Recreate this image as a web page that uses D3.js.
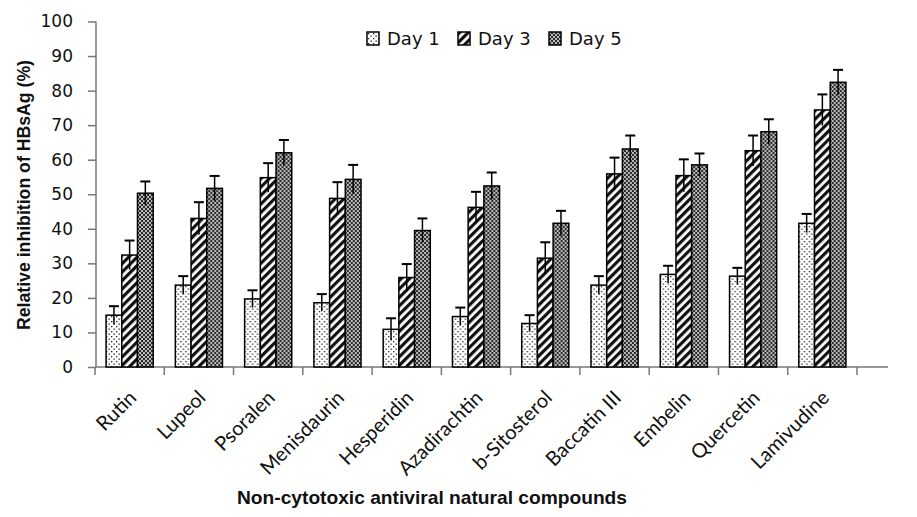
<!DOCTYPE html>
<html><head><meta charset="utf-8">
<script src="https://cdn.jsdelivr.net/npm/d3@7"></script>
<style>body{margin:0;background:#fff}svg{display:block}</style>
</head><body>
<svg id="chart" width="917" height="517"></svg>
<script>
const categories = ["Rutin","Lupeol","Psoralen","Menisdaurin","Hesperidin","Azadirachtin","b-Sitosterol","Baccatin III","Embelin","Quercetin","Lamivudine"];
const seriesNames = ["Day 1","Day 3","Day 5"];
const day1 = [15.0,23.7,19.7,18.6,10.9,14.6,12.6,23.7,26.8,26.3,41.6];
const day3 = [32.4,43.0,54.8,48.8,25.9,46.2,31.5,55.9,55.4,62.6,74.4];
const day5 = [50.3,51.7,62.0,54.3,39.5,52.4,41.6,63.1,58.5,68.1,82.4];
const err1 = [2.6,2.6,2.5,2.5,3.2,2.6,2.4,2.6,2.5,2.4,2.7];
const err3 = [4.2,4.7,4.2,4.7,3.9,4.5,4.6,4.7,4.7,4.4,4.5];
const err5 = [3.4,3.6,3.7,4.2,3.5,3.9,3.6,3.9,3.3,3.6,3.6];
const yTicks = [0,10,20,30,40,50,60,70,80,90,100];

const values = [day1, day3, day5];
const errors = [err1, err3, err5];
const svg = d3.select("#chart");

// patterns
const defs = svg.append("defs");
const p1 = defs.append("pattern").attr("id","pat0").attr("patternUnits","userSpaceOnUse").attr("width",5).attr("height",5);
p1.append("rect").attr("width",5).attr("height",5).attr("fill","#fff");
p1.append("rect").attr("x",1).attr("y",1).attr("width",1.3).attr("height",1.3).attr("fill","#222");
p1.append("rect").attr("x",3.5).attr("y",3.5).attr("width",1.3).attr("height",1.3).attr("fill","#222");
const p2 = defs.append("pattern").attr("id","pat1").attr("patternUnits","userSpaceOnUse").attr("width",6).attr("height",6)
  .attr("patternTransform","rotate(45)");
p2.append("rect").attr("width",6).attr("height",6).attr("fill","#fff");
p2.append("rect").attr("x",0).attr("y",0).attr("width",3.2).attr("height",6).attr("fill","#111");
const p3 = defs.append("pattern").attr("id","pat2").attr("patternUnits","userSpaceOnUse").attr("width",4).attr("height",4);
p3.append("rect").attr("width",4).attr("height",4).attr("fill","#2a2a2a");
p3.append("circle").attr("cx",1).attr("cy",1).attr("r",0.9).attr("fill","#fff");
p3.append("circle").attr("cx",3).attr("cy",3).attr("r",0.9).attr("fill","#fff");

const x0 = d3.scaleBand().domain(categories).range([95,857]).paddingInner(0).paddingOuter(0);
const bw = x0.bandwidth();
const x1 = d3.scaleBand().domain(seriesNames).range([bw*0.16, bw*0.84]).padding(0);
const y = d3.scaleLinear().domain([0,100]).range([367,21.5]);

// y axis
const ya = svg.append("g").attr("transform","translate(96,0)")
  .call(d3.axisLeft(y).tickValues(yTicks).tickSize(8).tickPadding(15).tickFormat(d3.format("d")));
ya.selectAll("path,line").attr("stroke","#777").attr("stroke-width",1.5);
ya.select(".domain").attr("d",`M0,${y(100)}V${y(0)}`);
ya.selectAll("text").attr("font-family","DejaVu Sans, Verdana, sans-serif").attr("font-size",17).attr("fill","#111");

// x axis
const xg = svg.append("g");
xg.append("line").attr("x1",x0.range()[0]).attr("x2",888).attr("y1",y(0)).attr("y2",y(0)).attr("stroke","#777").attr("stroke-width",1.5);
const bounds = categories.map(c=>x0(c)).concat([x0(categories[categories.length-1])+bw]);
xg.selectAll("line.tk").data(bounds).join("line").attr("class","tk")
  .attr("x1",d=>d).attr("x2",d=>d).attr("y1",y(0)).attr("y2",y(0)+8).attr("stroke","#777").attr("stroke-width",1.5);
xg.selectAll("text.cat").data(categories).join("text").attr("class","cat")
  .attr("transform",d=>`translate(${x0(d)+bw/2+8},${y(0)+32}) rotate(-45)`)
  .attr("text-anchor","end")
  .attr("font-family","Lato, 'Open Sans', sans-serif").attr("font-size",20).attr("fill","#111")
  .text(d=>d);

// bars
const groups = svg.append("g").selectAll("g").data(categories).join("g")
  .attr("transform",d=>`translate(${x0(d)},0)`);
seriesNames.forEach((s,si)=>{
  groups.append("rect")
    .attr("x",x1(s)).attr("width",x1.bandwidth())
    .attr("y",(d,i)=>y(values[si][i])).attr("height",(d,i)=>y(0)-y(values[si][i]))
    .attr("fill",`url(#pat${si})`).attr("stroke","#000").attr("stroke-width",1.5);
});
seriesNames.forEach((s,si)=>{
  const cx = x1(s)+x1.bandwidth()/2;
  groups.append("line").attr("x1",cx).attr("x2",cx)
    .attr("y1",(d,i)=>y(values[si][i]-errors[si][i]))
    .attr("y2",(d,i)=>y(values[si][i]+errors[si][i]))
    .attr("stroke","#000").attr("stroke-width",1.5);
  groups.append("line").attr("x1",cx-5).attr("x2",cx+5)
    .attr("y1",(d,i)=>y(values[si][i]+errors[si][i]))
    .attr("y2",(d,i)=>y(values[si][i]+errors[si][i]))
    .attr("stroke","#000").attr("stroke-width",2);
});

// legend
const legX = [367,458,549];
const leg = svg.append("g").selectAll("g").data(seriesNames).join("g")
  .attr("transform",(d,i)=>`translate(${legX[i]},32)`);
leg.append("rect").attr("x",0).attr("y",0).attr("width",12).attr("height",13)
  .attr("fill",(d,i)=>`url(#pat${i})`).attr("stroke","#000").attr("stroke-width",1.5);
leg.append("text").attr("x",20).attr("y",13).text(d=>d)
  .attr("font-family","DejaVu Sans, Verdana, sans-serif").attr("font-size",18).attr("fill","#111");

// axis titles
svg.append("text").attr("transform","translate(30,195) rotate(-90)").attr("text-anchor","middle")
  .attr("font-family","'Liberation Sans', Arial, sans-serif").attr("font-weight","bold").attr("font-size",19)
  .attr("textLength",270).attr("lengthAdjust","spacingAndGlyphs")
  .attr("fill","#111").text("Relative inhibition of HBsAg (%)");
svg.append("text").attr("x",432).attr("y",504).attr("text-anchor","middle")
  .attr("font-family","'Liberation Sans', Arial, sans-serif").attr("font-weight","bold").attr("font-size",19)
  .attr("textLength",390).attr("lengthAdjust","spacingAndGlyphs")
  .attr("fill","#111").text("Non-cytotoxic antiviral natural compounds");
</script>
</body></html>
